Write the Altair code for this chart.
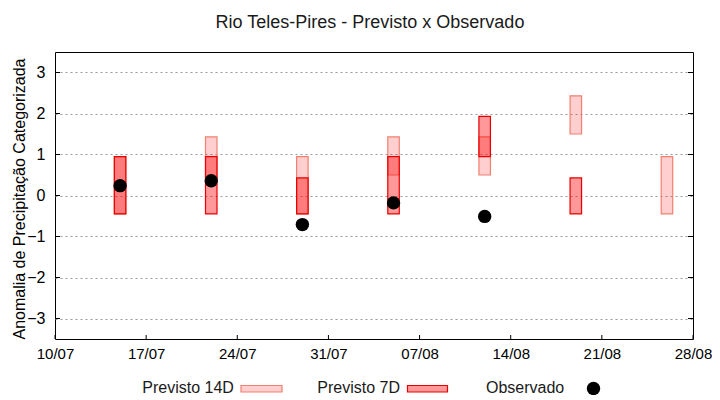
import altair as alt
import pandas as pd

# ---- data ----
dates = ["2024-07-15", "2024-07-22", "2024-07-29", "2024-08-05",
         "2024-08-12", "2024-08-19", "2024-08-26"]
p14_low = [-0.45, 0.43, -0.45, 0.50, 0.50, 1.50, -0.45]
p14_high = [0.95, 1.43, 0.95, 1.43, 1.43, 2.43, 0.95]
p7_dates = dates[:6]
p7_low = [-0.45, -0.45, -0.45, -0.45, 0.95, -0.45]
p7_high = [0.95, 0.95, 0.43, 0.95, 1.93, 0.43]
obs_dates = dates[:5]
obs_vals = [0.24, 0.36, -0.71, -0.18, -0.51]

x_ticks = ["2024-07-10", "2024-07-17", "2024-07-24", "2024-07-31",
           "2024-08-07", "2024-08-14", "2024-08-21", "2024-08-28"]
y_ticks = [-3, -2, -1, 0, 1, 2, 3]

W, H = 638, 287
FONT = "Liberation Sans"


def dt(s):
    y, m, d = map(int, s.split("-"))
    return alt.DateTime(year=y, month=m, date=d, utc=True)


df14 = pd.DataFrame({"date": dates, "lo": p14_low, "hi": p14_high})
df7 = pd.DataFrame({"date": p7_dates, "lo": p7_low, "hi": p7_high})
dfo = pd.DataFrame({"date": obs_dates, "v": obs_vals})
dfxt = pd.DataFrame({"date": x_ticks})
dfyt = pd.DataFrame({"v": y_ticks})
one = pd.DataFrame({"a": [0]})

xscale = alt.Scale(type="utc", domain=[dt(x_ticks[0]), dt(x_ticks[-1])],
                   nice=False, padding=0)
yscale = alt.Scale(domain=[-3.5, 3.5], nice=False, zero=False, padding=0)

xaxis = alt.Axis(values=[dt(s) for s in x_ticks], format="%d/%m", title=None,
                 grid=False, ticks=False, domain=False, labelPadding=7,
                 labelFlush=False, labelOverlap=False, labelBound=False,
                 labelFont=FONT, labelFontSize=15, labelColor="black")
yaxis = alt.Axis(values=y_ticks, title="Anomalia de Precipitação Categorizada",
                 grid=True, gridDash=[2, 3], gridColor="#9a9a9a", gridWidth=1,
                 ticks=False, domain=False, labelPadding=10,
                 labelFlush=False, labelOverlap=False,
                 labelFont=FONT, labelFontSize=16, labelColor="black",
                 titleFont=FONT, titleFontSize=16, titleFontWeight="normal",
                 titleColor="black", titleAngle=-90, titleX=-36, titleY=H / 2 + 3,
                 titleAlign="center", titleBaseline="middle")

bars14 = alt.Chart(df14).mark_bar(
    width=11.5, fill="#ff0000", fillOpacity=0.19, stroke="#f08070", strokeWidth=1.2
).encode(
    x=alt.X("date:T", scale=xscale, axis=xaxis),
    y=alt.Y("lo:Q", scale=yscale, axis=yaxis),
    y2="hi:Q",
)

bars7 = alt.Chart(df7).mark_bar(
    width=11.5, fill="#ff0000", fillOpacity=0.4, stroke="#e80000", strokeWidth=1.2
).encode(
    x=alt.X("date:T", scale=xscale),
    y=alt.Y("lo:Q", scale=yscale),
    y2="hi:Q",
)

xt = alt.Chart(dfxt).mark_rule(color="black", strokeWidth=1).encode(
    x=alt.X("date:T", scale=xscale), y=alt.value(H), y2=alt.value(H - 4))
ytl = alt.Chart(dfyt).mark_rule(color="black", strokeWidth=1).encode(
    y=alt.Y("v:Q", scale=yscale), x=alt.value(0), x2=alt.value(5))
ytr = alt.Chart(dfyt).mark_rule(color="black", strokeWidth=1).encode(
    y=alt.Y("v:Q", scale=yscale), x=alt.value(W), x2=alt.value(W - 5))

dots = alt.Chart(dfo).mark_circle(size=180, color="black", opacity=1).encode(
    x=alt.X("date:T", scale=xscale),
    y=alt.Y("v:Q", scale=yscale),
)

# ---- legend (label followed by key, gnuplot style) ----
LY = 340.5


def leg_text(label, x):
    return alt.Chart(one).mark_text(
        align="left", baseline="alphabetic", font=FONT, fontSize=16, color="#1a1a1a"
    ).encode(x=alt.value(x), y=alt.value(LY), text=alt.value(label))


leg14 = alt.Chart(one).mark_rect(
    fill="#ff0000", fillOpacity=0.19, stroke="#f08070", strokeWidth=1.2
).encode(x=alt.value(186), x2=alt.value(227), y=alt.value(333.5), y2=alt.value(340))
leg7 = alt.Chart(one).mark_rect(
    fill="#ff0000", fillOpacity=0.4, stroke="#e80000", strokeWidth=1.2
).encode(x=alt.value(352.5), x2=alt.value(392.5), y=alt.value(333.5), y2=alt.value(340))
legdot = alt.Chart(one).mark_circle(size=180, color="black", opacity=1).encode(
    x=alt.value(538.5), y=alt.value(336.5))

chart = alt.layer(
    bars14, bars7, xt, ytl, ytr, dots,
    leg_text("Previsto 14D", 87.3), leg14,
    leg_text("Previsto 7D", 262.3), leg7,
    leg_text("Observado", 431), legdot,
).properties(
    width=W, height=H,
    autosize=alt.AutoSizeParams(type="none"),
    padding={"left": 47, "top": 44, "right": 19, "bottom": 56},
    title=alt.TitleParams(
        "Rio Teles-Pires - Previsto x Observado", font=FONT, fontSize=18,
        fontWeight="normal", color="#1a1a1a", anchor="middle", frame="group",
        baseline="alphabetic", offset=6, dx=-4),
).configure_view(stroke="black", strokeWidth=1)

chart.save("out.html", embed_options={"renderer": "svg", "actions": False})
